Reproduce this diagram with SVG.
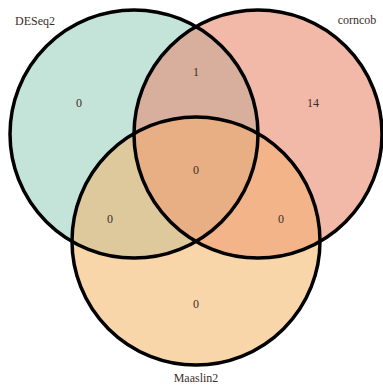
<svg xmlns="http://www.w3.org/2000/svg" width="383" height="389" viewBox="0 0 383 389">
<style>
text{font-family:'Liberation Serif','DejaVu Serif',serif;font-size:12px;fill:#3a2e28;text-anchor:middle}
.ring{fill:none;stroke:#000;stroke-width:3.5}
</style>
<defs>
<circle id="c1" cx="134" cy="134" r="124"/>
<circle id="c2" cx="258" cy="134" r="124"/>
<circle id="c3" cx="196" cy="241" r="124"/>
<clipPath id="k1"><use href="#c1"/></clipPath>
<clipPath id="k2"><use href="#c2"/></clipPath>
<clipPath id="k3"><use href="#c3"/></clipPath>
</defs>
<rect width="383" height="389" fill="#fff"/>
<g id="fills">
<use href="#c1" fill="#c4e4d9"/>
<use href="#c2" fill="#f2b8a8"/>
<use href="#c3" fill="#f9d6a9"/>
<g clip-path="url(#k1)"><use href="#c2" fill="#d8ae9c"/><use href="#c3" fill="#dec99c"/></g>
<g clip-path="url(#k2)"><use href="#c3" fill="#f2b488"/></g>
<g clip-path="url(#k1)"><g clip-path="url(#k2)"><use href="#c3" fill="#e8ae84"/></g></g>
</g>
<g id="DESeq2"><use href="#c1" class="ring"/><text x="35" y="25">DESeq2</text><text x="79" y="107">0</text></g>
<g id="corncob"><use href="#c2" class="ring"/><text x="357" y="24">corncob</text><text x="313" y="107">14</text></g>
<g id="Maaslin2"><use href="#c3" class="ring"/><text x="196" y="382">Maaslin2</text><text x="196" y="308">0</text></g>
<g id="overlaps">
<text x="196" y="76">1</text>
<text x="196" y="174">0</text>
<text x="110" y="223">0</text>
<text x="281" y="223">0</text>
</g>
</svg>
